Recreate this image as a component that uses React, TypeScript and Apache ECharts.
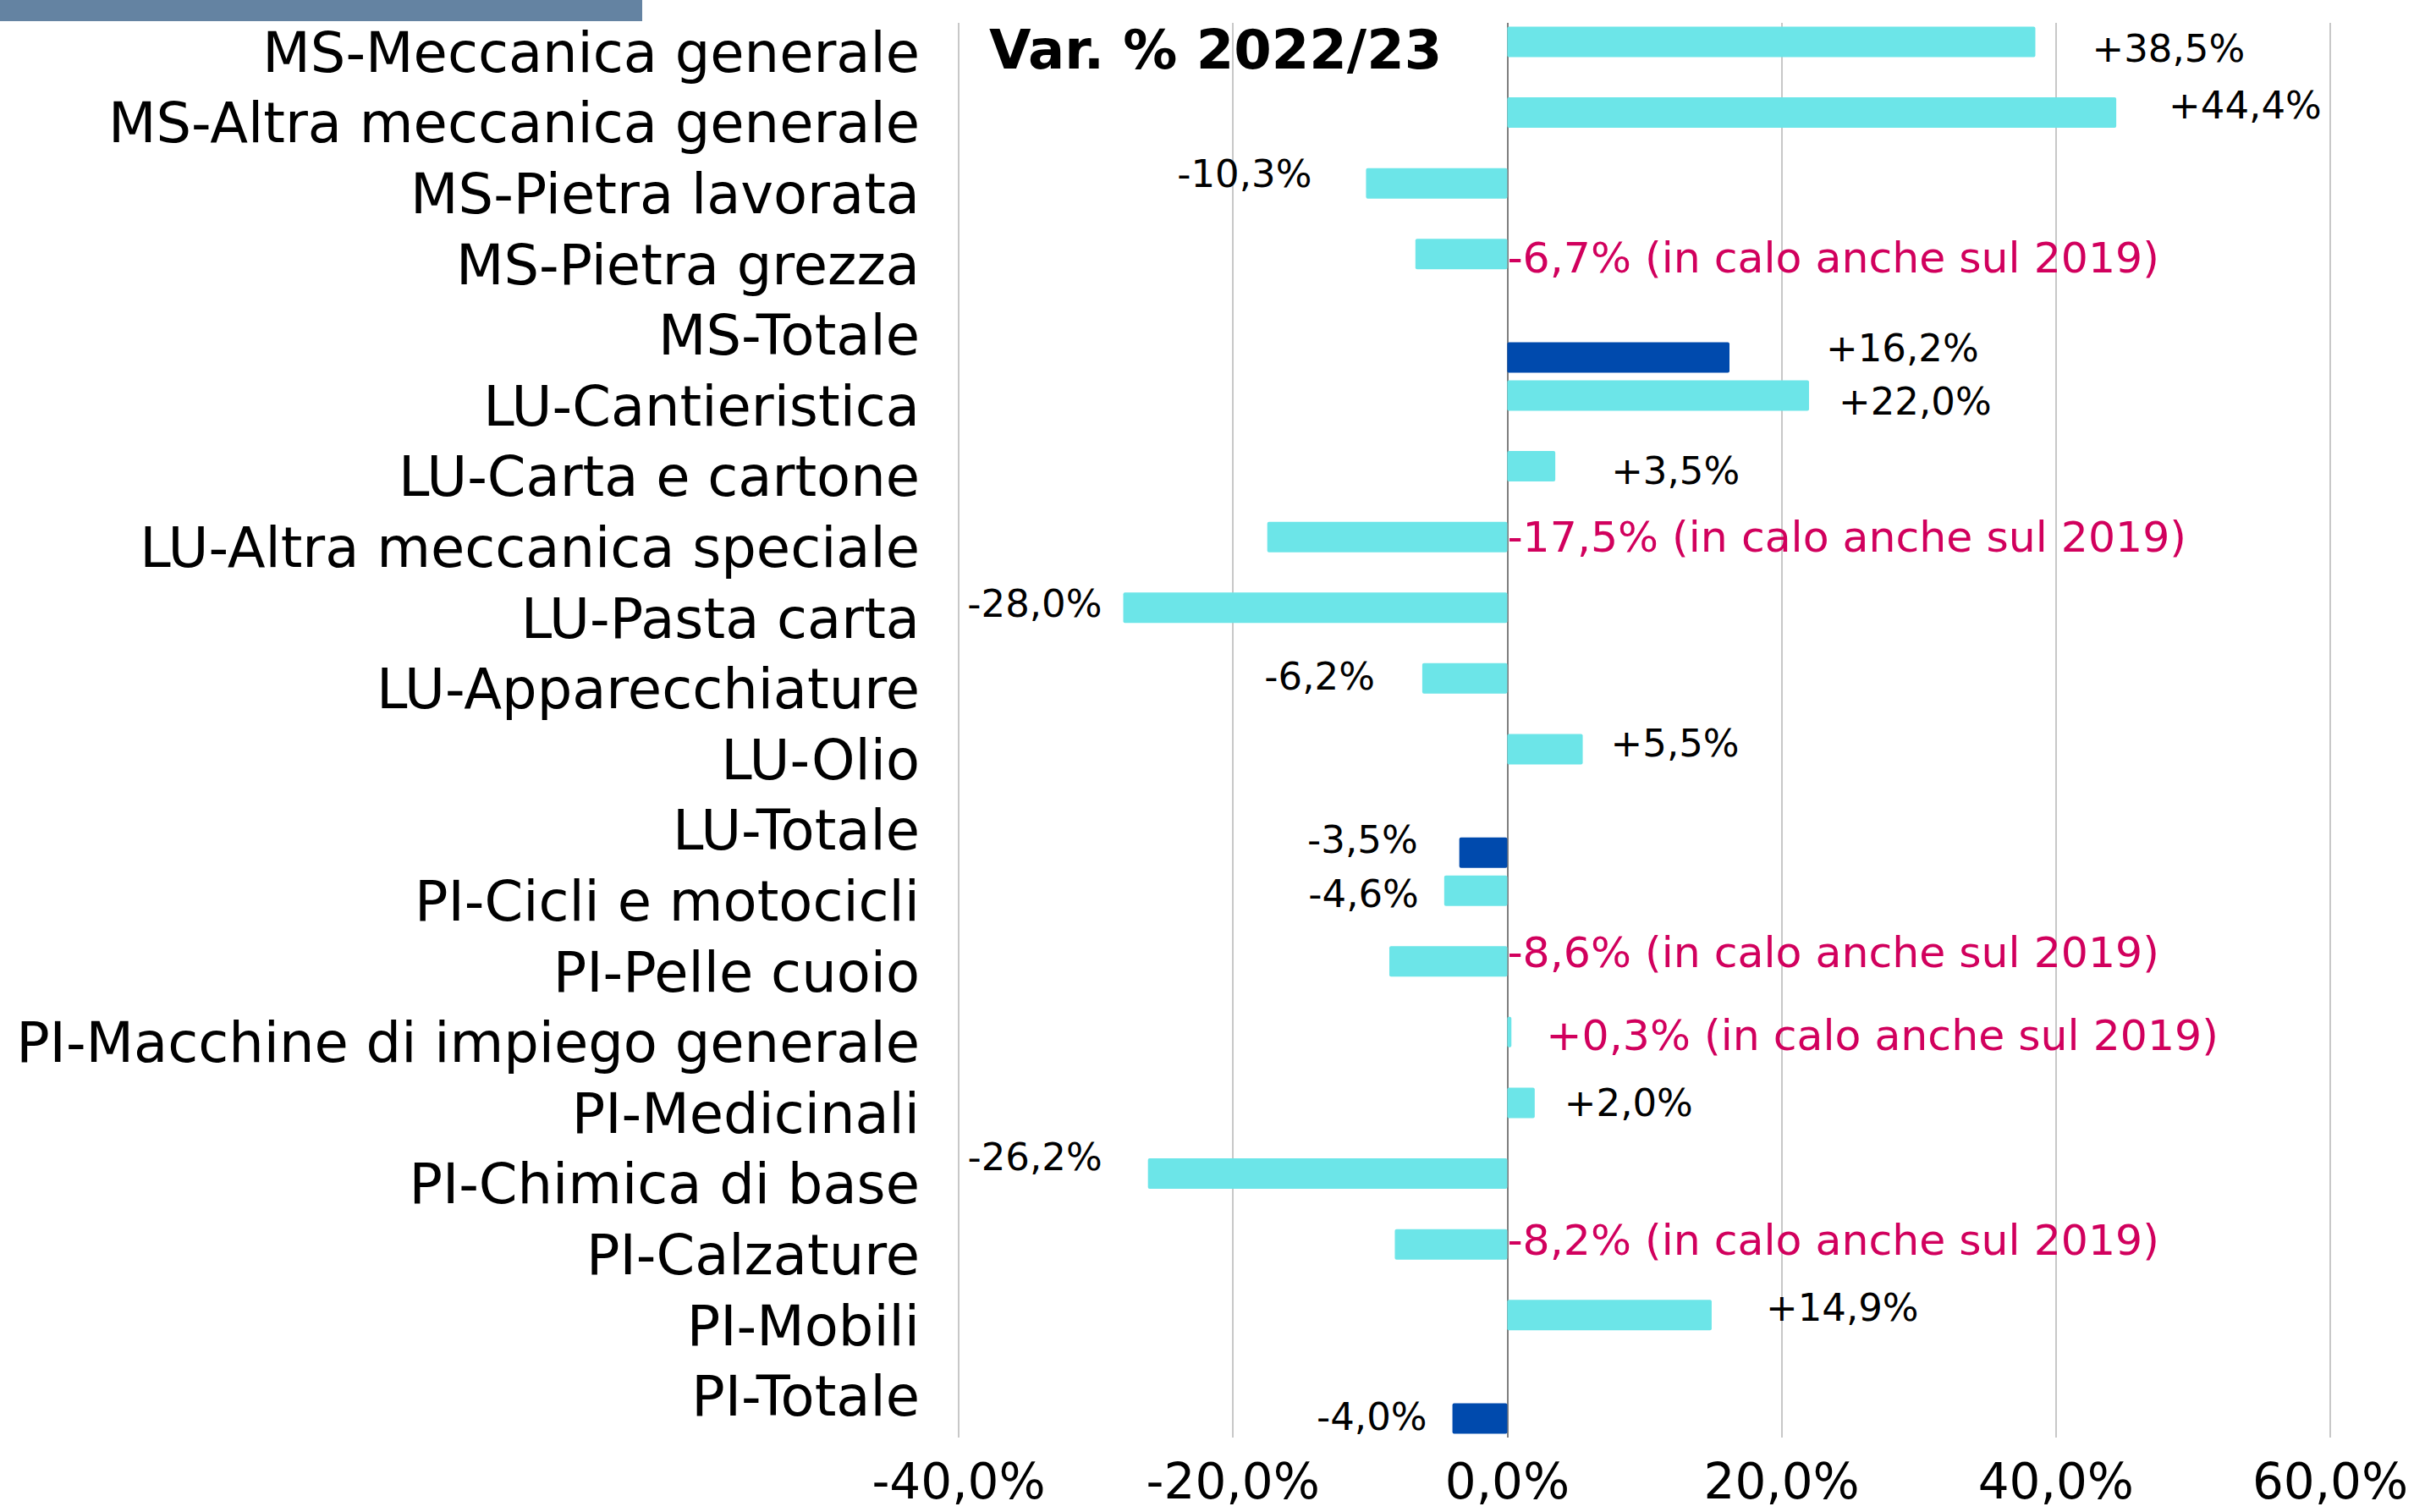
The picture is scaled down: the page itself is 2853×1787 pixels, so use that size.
import React, { useEffect, useRef } from "react";
import * as echarts from "echarts";

// ---- data ----
const categories = [
  "MS-Meccanica generale",
  "MS-Altra meccanica generale",
  "MS-Pietra lavorata",
  "MS-Pietra grezza",
  "MS-Totale",
  "LU-Cantieristica",
  "LU-Carta e cartone",
  "LU-Altra meccanica speciale",
  "LU-Pasta carta",
  "LU-Apparecchiature",
  "LU-Olio",
  "LU-Totale",
  "PI-Cicli e motocicli",
  "PI-Pelle cuoio",
  "PI-Macchine di impiego generale",
  "PI-Medicinali",
  "PI-Chimica di base",
  "PI-Calzature",
  "PI-Mobili",
  "PI-Totale",
];
const values = [
  38.5, 44.4, -10.3, -6.7, 16.2, 22.0, 3.5, -17.5, -28.0, -6.2, 5.5, -3.5,
  -4.6, -8.6, 0.3, 2.0, -26.2, -8.2, 14.9, -4.0,
];
const alsoDownOn2019 = [
  "MS-Pietra grezza",
  "LU-Altra meccanica speciale",
  "PI-Pelle cuoio",
  "PI-Macchine di impiego generale",
  "PI-Calzature",
];
const noteText = "(in calo anche sul 2019)";
const title = "Var. % 2022/23";
const xMin = -40;
const xMax = 60;
const xStep = 20;

// ---- label styling (pixel nudges, hand-placed labels in the original) ----
const labelGap = [67, 62, 64, 0, 114, 35, 66, 0, 25, 56, 33, 49, 30, 0, 41, 35, 54, 0, 64, 30];
const labelDy = [8, -9, -11, 4, -11, 7, 5, 0, -5, -2, -7, -15, 4, -11, 4, 0, -20, -5, -9, -2];

const FONT = "DejaVu Sans";
const CYAN = "#6CE5E8";
const DARK = "#004AAD";
const MAGENTA = "#D1005D";

const fmt = (v: number) => (v > 0 ? "+" : "") + v.toFixed(1).replace(".", ",") + "%";

export default function App() {
  const ref = useRef<HTMLDivElement>(null);
  useEffect(() => {
    const chart = echarts.init(ref.current!, null, { renderer: "svg" });

    const build = (totalSeries: boolean) =>
      categories.map((c, i) => {
        const isTotal = c.endsWith("Totale");
        if (isTotal !== totalSeries) return "-";
        const v = values[i];
        const noted = alsoDownOn2019.includes(c);
        const position = noted ? "right" : v >= 0 ? "right" : "left";
        return {
          value: v,
          label: {
            show: true,
            position,
            distance: labelGap[i],
            offset: [0, labelDy[i]],
            formatter: noted ? `${fmt(v)} ${noteText}` : fmt(v),
            color: noted ? MAGENTA : "#000",
            fontSize: noted ? 50.5 : 45,
            fontFamily: FONT,
          },
        };
      });

    const gridColors = [];
    for (let t = xMin; t <= xMax; t += xStep) gridColors.push(t === 0 ? "#7F7F7F" : "#C8C8C8");

    chart.setOption({
      animation: false,
      backgroundColor: "#fff",
      grid: { left: 1133, right: 99, top: 27, bottom: 88, outerBoundsMode: "none", containLabel: false },
      xAxis: {
        type: "value",
        min: xMin,
        max: xMax,
        interval: xStep,
        axisLine: { show: false },
        axisTick: { show: false },
        splitLine: { show: true, lineStyle: { color: gridColors, width: 2 } },
        axisLabel: {
          fontSize: 58,
          fontFamily: FONT,
          color: "#000",
          margin: 23,
          formatter: (v: number) => v.toFixed(1).replace(".", ",") + "%",
        },
      },
      yAxis: {
        type: "category",
        data: categories,
        inverse: true,
        axisLine: { show: false },
        axisTick: { show: false },
        axisLabel: {
          interval: 0,
          fontSize: 65.5,
          fontFamily: FONT,
          color: "#000",
          margin: 46,
          verticalAlign: "bottom",
          lineHeight: 14,
        },
      },
      graphic: [
        { type: "rect", left: 0, top: 0, shape: { width: 759, height: 25 }, style: { fill: "#6483A2" } },
        {
          type: "text",
          x: 1169,
          y: 59,
          style: {
            text: title,
            font: `bold 64px "${FONT}"`,
            fill: "#000",
            align: "left",
            verticalAlign: "middle",
          },
        },
      ],
      series: [
        {
          type: "bar",
          name: "settori",
          data: build(false),
          barWidth: 36,
          barGap: "7.5%",
          itemStyle: { color: CYAN, borderRadius: 2 },
        },
        {
          type: "bar",
          name: "totale",
          data: build(true),
          barWidth: 36,
          barGap: "7.5%",
          itemStyle: { color: DARK, borderRadius: 2 },
        },
      ],
    });
    return () => chart.dispose();
  }, []);
  return (
    <div
      ref={ref}
      style={{ position: "fixed", left: 0, top: 0, width: "2853px", height: "1787px", background: "#fff" }}
    />
  );
}
